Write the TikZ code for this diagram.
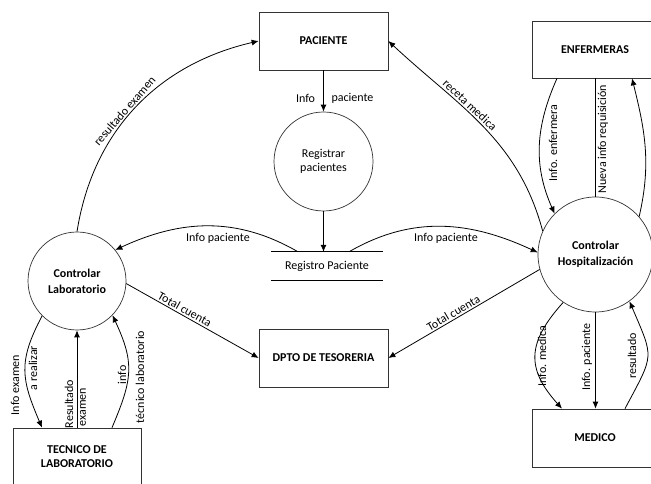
\documentclass[tikz,border=0pt]{standalone}
\usepackage{fontspec}
\setmainfont{Carlito}
\usetikzlibrary{arrows.meta,calc}
\begin{document}
\begin{tikzpicture}[x=1pt,y=1pt,
  every node/.style={font=\fontsize{12}{14}\selectfont},
  ent/.style={draw=black!80, line width=0.7pt, minimum width=129pt, minimum height=58pt, font=\fontsize{12}{14}\selectfont\bfseries, align=center, inner sep=0},
  proc/.style={draw=black!80, circle, line width=0.7pt, inner sep=0, align=center},
  bproc/.style={proc, font=\fontsize{12}{16}\selectfont\bfseries},
  flow/.style={line width=0.8pt, -{Latex[length=7pt,width=6pt]}},
  plain/.style={line width=0.8pt},
  lbl/.style={inner sep=0, font=\fontsize{12}{14}\selectfont},
]
\clip (0,0) rectangle (651,484);

% entities and processes
\node[ent] (pac) at (323.5,443) {PACIENTE};
\node[proc, minimum size=99pt] (reg) at (323.5,322.5) {Registrar\\pacientes};
\node[inner sep=0, minimum width=112pt, minimum height=28pt] (store) at (327,218) {Registro Paciente};
\draw[plain] (store.north west) -- (store.north east) (store.south west) -- (store.south east);
\node[bproc, minimum size=98pt] (lab) at (77,203) {Controlar\\Laboratorio};
\node[bproc, minimum size=115pt] (hosp) at (595.5,229.5) {Controlar\\Hospitalización};
\node[ent, minimum width=126pt, minimum height=57pt] (enf) at (595,434.5) {ENFERMERAS};
\node[ent] (teso) at (323.5,126) {DPTO DE TESORERIA};
\node[ent, minimum width=128pt] (tec) at (77,27) {TECNICO DE\\LABORATORIO};
\node[ent, minimum width=126pt] (med) at (595,46) {MEDICO};

% connectors
\draw[flow] (pac) -- (reg);
\draw[flow] (reg.south) -- (reg.south |- store.north);
\coordinate (sL) at ($(store.north)+(-29,0)$);
\coordinate (sR) at ($(store.north)+(22,0)$);
\draw[flow] (sL) to[out=150,in=25] (lab.39);
\draw[flow] (sR) to[out=30,in=155] (hosp.178);
\draw[flow] (lab.90) to[out=81,in=193]
  node[lbl, sloped, above=1.5pt, pos=0.46] (l4) {resultado examen} (pac.west);
\draw[flow] (hosp.156) to[out=105,in=-43]
  node[lbl, sloped, above=1.5pt, pos=0.6] (l5) {receta medica} (pac.east);
\draw[flow] (lab.-3) -- node[lbl, sloped, above=1.5pt, pos=0.42] (l6) {Total cuenta} (teso.west);
\draw[flow] (hosp.195) -- node[lbl, sloped, above=1.5pt, pos=0.55] (l7) {Total cuenta} (teso.east);
\coordinate (e1) at ($(enf.south)+(-38,0)$);
\coordinate (e2) at ($(enf.south)+(37,0)$);
\draw[flow] (e1) to[out=246,in=114] (hosp.135);
\draw[plain] (enf.south) -- (enf.south |- hosp.north);
\draw[flow] (hosp.41) to[out=77,in=284] (e2);
\coordinate (m1) at ($(med.north)+(-33,0)$);
\coordinate (m2) at ($(med.north)+(30,0)$);
\draw[flow] (hosp.236) to[out=228,in=132,looseness=1.3] (m1);
\draw[flow] (hosp.south) -- (hosp.south |- med.north);
\draw[flow] (m2) to[out=62,in=293,looseness=1.5] (hosp.306);
\coordinate (t1) at ($(tec.north)+(-35,0)$);
\coordinate (t2) at ($(tec.north)+(35,0)$);
\draw[flow] (lab.225) to[out=242,in=113,looseness=1.2] (t1);
\draw[flow] (tec.north) -- (lab.south);
\draw[flow] (t2) to[out=67,in=295,looseness=1.2] (lab.316);

% labels
\node[lbl] (l1a) at (305.5,386) {Info};
\node[lbl] (l1b) at (352.5,386) {paciente};
\node[lbl] (l2) at (218,246) {Info paciente};
\node[lbl] (l3) at (446,246) {Info paciente};
\node[lbl, rotate=90] (l8) at (553,341) {Info. enfermera};
\node[lbl, rotate=90] (l9) at (603,345) {Nueva info requisición};
\node[lbl, rotate=90] (l10) at (542,128) {Info. medica};
\node[lbl, rotate=90] (l11) at (587,127) {Info. paciente};
\node[lbl, rotate=90] (l12) at (632,128) {resultado};
\node[lbl, rotate=90] (l13a) at (15,99) {Info examen};
\node[lbl, rotate=90] (l13b) at (33,116) {a realizar};
\node[lbl, rotate=90] (l14a) at (69,80) {Resultado};
\node[lbl, rotate=90] (l14b) at (83,77) {examen};
\node[lbl, rotate=90] (l15a) at (122,109) {info};
\node[lbl, rotate=90] (l15b) at (140,107) {técnico laboratorio};
\end{tikzpicture}
\end{document}
